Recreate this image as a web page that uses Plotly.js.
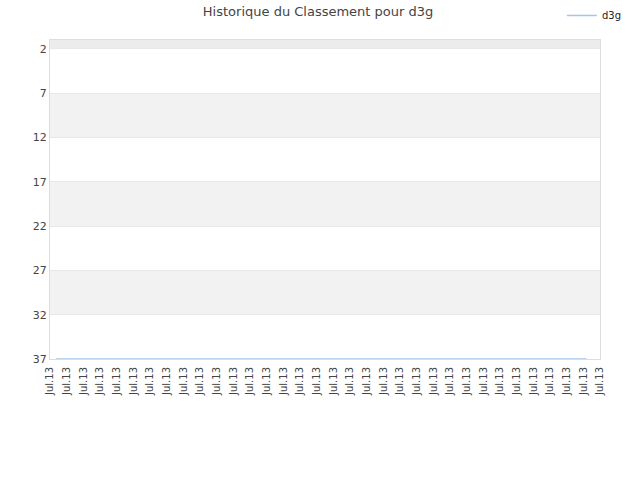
<!DOCTYPE html>
<html><head><meta charset="utf-8">
<script src="https://cdn.plot.ly/plotly-3.0.1.min.js"></script>
<style>body{margin:0;padding:0;background:#fff}#c{width:640px;height:480px}</style>
</head><body><div id="c"></div>
<script>
var tickLabels = ["Jul.13","Jul.13","Jul.13","Jul.13","Jul.13","Jul.13","Jul.13","Jul.13","Jul.13","Jul.13","Jul.13","Jul.13","Jul.13","Jul.13","Jul.13","Jul.13","Jul.13","Jul.13","Jul.13","Jul.13","Jul.13","Jul.13","Jul.13","Jul.13","Jul.13","Jul.13","Jul.13","Jul.13","Jul.13","Jul.13","Jul.13","Jul.13","Jul.13","Jul.13"];
var tickPos = tickLabels.map(function(_, i){ return i; });
var seriesX = [0.36, 8, 16, 24, 32.2];
var seriesRank = [37, 37, 37, 37, 37];
var yTicks = [2, 7, 12, 17, 22, 27, 32, 37];
var bandEdges = [[1, 2, '#ececec'], [7, 12, '#f2f2f2'], [17, 22, '#f2f2f2'], [27, 32, '#f2f2f2']];

var shapes = bandEdges.map(function(b){
  return {type:'rect', xref:'paper', yref:'y', x0:0, x1:1, y0:b[0], y1:b[1], fillcolor:b[2], line:{width:0}, layer:'below'};
});

var trace = {x: seriesX, y: seriesRank, mode:'lines', name:'d3g', line:{color:'#a4c6ec', width:1.5}};

var layout = {
  width:640, height:480,
  margin:{l:50, r:40, t:40, b:121, autoexpand:false},
  paper_bgcolor:'#fff', plot_bgcolor:'#fff',
  font:{family:'DejaVu Sans, sans-serif', size:11, color:'#444'},
  title:{text:'Historique du Classement pour d3g', x:0.497, xanchor:'center', y:0.985, yanchor:'top', font:{size:13, color:'#444', family:'DejaVu Sans, sans-serif'}},
  showlegend:true,
  legend:{xref:'container', yref:'container', x:0.878, xanchor:'left', y:0.998, yanchor:'top', font:{size:10, color:'#222'}, bgcolor:'rgba(0,0,0,0)'},
  xaxis:{range:[0,33], tickvals:tickPos, ticktext:tickLabels, tickangle:-90, showgrid:false, zeroline:false, showline:true, linecolor:'#ddd', mirror:true, ticks:'outside', ticklen:3, tickcolor:'rgba(0,0,0,0)', tickfont:{size:10, color:'#444'}},
  yaxis:{range:[37,1], tickvals:yTicks, showgrid:true, gridcolor:'#e8e8e8', zeroline:false, showline:true, linecolor:'#ddd', mirror:true, ticks:'', tickfont:{size:11, color:'#444'}},
  shapes:shapes
};
Plotly.newPlot('c', [trace], layout, {displayModeBar:false, staticPlot:true});
</script></body></html>
